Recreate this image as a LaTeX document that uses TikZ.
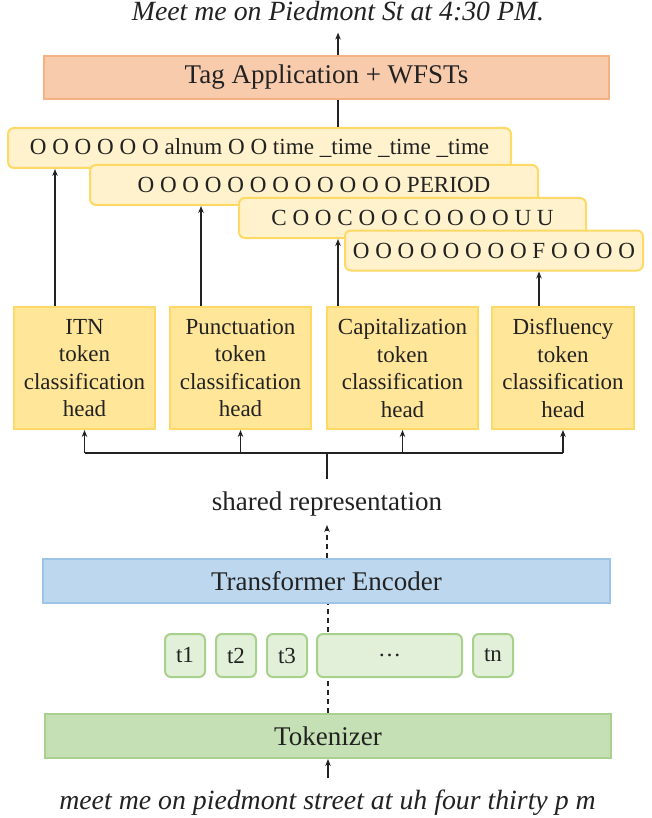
\documentclass[tikz,border=0pt]{standalone}
\usepackage{fontspec}
\setmainfont{Liberation Serif}
\usetikzlibrary{arrows.meta}
\definecolor{tagfill}{HTML}{F8CBAD}
\definecolor{tagdraw}{HTML}{F4B183}
\definecolor{lblfill}{HTML}{FFF2CC}
\definecolor{lbldraw}{HTML}{FFD966}
\definecolor{headfill}{HTML}{FFE699}
\definecolor{headdraw}{HTML}{FFD966}
\definecolor{encfill}{HTML}{BDD7EE}
\definecolor{encdraw}{HTML}{9DC3E6}
\definecolor{tokfill}{HTML}{E2F0D9}
\definecolor{tokdraw}{HTML}{A9D18E}
\definecolor{tkzfill}{HTML}{C5E0B4}
\definecolor{tkzdraw}{HTML}{A9D18E}
\definecolor{ink}{HTML}{222222}
\begin{document}
\begin{tikzpicture}[x=1pt,y=-1pt,
  bigfont/.style={font=\fontsize{27}{32}\selectfont},
  itfont/.style={font=\fontsize{27.8}{33}\selectfont\itshape},
  midfont/.style={font=\fontsize{23}{27.5}\selectfont},
  lblfont/.style={font=\fontsize{23.1}{28}\selectfont},
  bar/.style={draw=#1draw, fill=#1fill, line width=2pt, inner sep=0pt, text=ink, bigfont},
  lbl/.style={draw=lbldraw, fill=lblfill, line width=2pt, rounded corners=6pt, inner sep=0pt, text=ink, lblfont, minimum height=40pt},
  headbox/.style={draw=headdraw, fill=headfill, line width=2pt, inner sep=0pt, text=ink, midfont, align=center, minimum height=122pt},
  tok/.style={draw=tokdraw, fill=tokfill, line width=2pt, rounded corners=6pt, inner sep=0pt, text=ink, midfont, minimum height=43pt},
  conn/.style={draw=ink, line width=1.3pt},
  arr/.style={conn, -{Stealth[length=7pt,width=5.5pt]}},
  dasharr/.style={arr, dash pattern=on 5pt off 4pt},
  dashline/.style={conn, dash pattern=on 5pt off 4pt}
]
\useasboundingbox (0,0) rectangle (651,818);

% top output text
\node[inner sep=0pt, text=ink, anchor=base, itfont] (title) at (338,21) {Meet me on Piedmont St at 4:30 PM.};

% tag application box
\node[bar=tag, minimum width=565pt, minimum height=43pt] (tag) at (326.5,77.5) {Tag Application + WFSTs};

% label sequences
\node[lbl, minimum width=503pt] (l1) at (259.5,148) {O O O O O O alnum O O time \_time \_time \_time};
\node[lbl, minimum width=448pt] (l2) at (314,185) {O O O O O O O O O O O O PERIOD};
\node[lbl, minimum width=347pt] (l3) at (412.5,218) {C O O C O O C O O O O U U};
\node[lbl, minimum width=298pt] (l4) at (494,250.5) {O O O O O O O O F O O O O};

% heads
\node[headbox, minimum width=141pt] (itn) at (84.5,368) {ITN\\token\\classification\\head};
\node[headbox, minimum width=141pt] (pun) at (240.5,368) {Punctuation\\token\\classification\\head};
\node[headbox, minimum width=151pt] (cap) at (402.5,368) {Capitalization\\token\\classification\\head};
\node[headbox, minimum width=142pt] (dis) at (563,368) {Disfluency\\token\\classification\\head};

% shared representation
\node[inner sep=0pt, text=ink, anchor=base, bigfont] (shared) at (327,510) {shared representation};
\coordinate (stemfoot) at (327,479);
\coordinate (busy) at (0,453);
\coordinate (sharedfoot) at (327,525);

% encoder
\node[bar=enc, minimum width=567pt, minimum height=44pt] (enc) at (326.5,581) {Transformer Encoder};

% tokenizer
\node[bar=tkz, minimum width=566pt, minimum height=44pt] (tkz) at (328,736) {Tokenizer};

% input text
\node[inner sep=0pt, text=ink, anchor=base, itfont] (input) at (327.5,809) {meet me on piedmont street at uh four thirty p m};
\coordinate (inputtop) at (328,778);

% dashed line between tokenizer and encoder (behind tokens)
\draw[dashline] (tkz.north) -- (tkz.north |- enc.south);

% tokens
\node[tok, minimum width=40pt] (t1) at (185,655.5) {t1};
\node[tok, minimum width=40pt] (t2) at (236,655.5) {t2};
\node[tok, minimum width=40pt] (t3) at (287,655.5) {t3};
\node[tok, minimum width=145pt] (tdots) at (389.5,655.5) {\dots};
\node[tok, minimum width=40pt] (tn) at (493,655.5) {tn};

% connectors
\draw[arr, shorten >=11pt] (title |- tag.north) -- (title.south);
\draw[conn] (title |- l1.north) -- (title |- tag.south);

\draw[arr] ([xshift=-29.5pt]itn.north) coordinate (a1) -- (a1 |- l1.south);
\draw[arr] ([xshift=-39.5pt]pun.north) coordinate (a2) -- (a2 |- l2.south);
\draw[arr] ([xshift=-64.5pt]cap.north) coordinate (a3) -- (a3 |- l3.south);
\draw[arr] ([xshift=-24pt]dis.north) coordinate (a4) -- (a4 |- l4.south);

\draw[conn] (stemfoot) -- (stemfoot |- busy);
\draw[conn] (itn.south |- busy) -- (dis.south |- busy);
\draw[arr] (itn.south |- busy) -- (itn.south);
\draw[arr] (pun.south |- busy) -- (pun.south);
\draw[arr] (cap.south |- busy) -- (cap.south);
\draw[arr] (dis.south |- busy) -- (dis.south);

\draw[dasharr] (sharedfoot |- enc.north) -- (sharedfoot);
\draw[arr] (inputtop) -- (inputtop |- tkz.south);
\end{tikzpicture}
\end{document}
